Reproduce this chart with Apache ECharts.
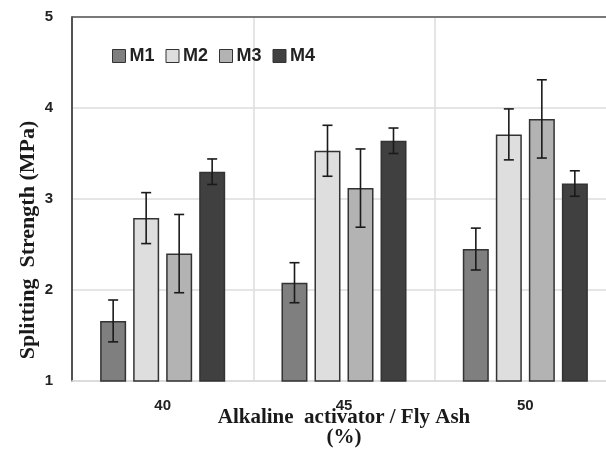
<!DOCTYPE html>
<html>
<head>
<meta charset="utf-8">
<script src="https://cdn.jsdelivr.net/npm/echarts@6/dist/echarts.min.js"></script>
<style>
  html, body { margin: 0; padding: 0; background: #fff; }
  #chart { width: 606px; height: 452px; }
</style>
</head>
<body>
<div id="chart"></div>
<script>
const categories = ['40', '45', '50']
const seriesNames = ['M1', 'M2', 'M3', 'M4']
const m1 = [1.66, 2.08, 2.45]
const m2 = [2.79, 3.53, 3.71]
const m3 = [2.40, 3.12, 3.88]
const m4 = [3.30, 3.64, 3.17]
const m1Err = [0.23, 0.22, 0.23]
const m2Err = [0.28, 0.28, 0.28]
const m3Err = [0.43, 0.43, 0.43]
const m4Err = [0.14, 0.14, 0.14]
const yTicks = [1, 2, 3, 4, 5]

const values = [m1, m2, m3, m4]
const errors = [m1Err, m2Err, m3Err, m4Err]
const colors = ['#7f7f7f', '#dedede', '#b3b3b3', '#404040']

const barWidth = 26
const barStep = 33 // bar width + gap between bars

const chart = echarts.init(document.getElementById('chart'))

const bars = values.map((data, i) => ({
  name: seriesNames[i],
  type: 'bar',
  barWidth: barWidth,
  barGap: '27%',
  itemStyle: {
    color: colors[i],
    borderColor: '#333',
    borderWidth: 1.5,
  },
  data,
}))

// error bars, one custom series per group so they sit on top of their bar
const errorBars = values.map((data, i) => ({
  type: 'custom',
  name: seriesNames[i] + ' err',
  z: 10,
  silent: true,
  encode: { x: 0, y: 1 },
  data: data.map((v, k) => [k, v, errors[i][k]]),
  renderItem(params, api) {
    const k = api.value(0)
    const v = api.value(1)
    const e = api.value(2)
    const dx = (i - 1.5) * barStep
    const hi = api.coord([k, v + e])
    const lo = api.coord([k, v - e])
    const x = hi[0] + dx
    const cap = 5
    const style = { stroke: '#1a1a1a', lineWidth: 1.6 }
    return {
      type: 'group',
      children: [
        { type: 'line', shape: { x1: x, y1: hi[1], x2: x, y2: lo[1] }, style },
        { type: 'line', shape: { x1: x - cap, y1: hi[1], x2: x + cap, y2: hi[1] }, style },
        { type: 'line', shape: { x1: x - cap, y1: lo[1], x2: x + cap, y2: lo[1] }, style },
      ],
    }
  },
}))

const option = {
  animation: false,
  backgroundColor: '#fff',
  grid: {
    left: 72,
    right: -10,
    top: 17,
    bottom: 71,
    outerBoundsMode: 'none',
  },
  legend: {
    data: seriesNames,
    left: 107,
    top: 42,
    itemWidth: 13,
    itemHeight: 13,
    itemGap: 11,
    icon: 'rect',
    itemStyle: { borderColor: '#333', borderWidth: 1 },
    textStyle: {
      fontFamily: 'Liberation Sans',
      fontWeight: 'bold',
      fontSize: 18,
      color: '#222',
      padding: [0, 0, 0, -1],
    },
  },
  xAxis: [
    {
      type: 'category',
      data: categories,
      axisTick: { show: false },
      axisLine: { lineStyle: { color: '#d9d9d9', width: 1.5 } },
      splitLine: { show: true, lineStyle: { color: '#dcdcdc', width: 1.5 } },
      axisLabel: {
        margin: 17,
        fontFamily: 'Liberation Sans',
        fontWeight: 'bold',
        fontSize: 15,
        color: '#222',
      },
      name: 'Alkaline  activator / Fly Ash\n(%)',
      nameLocation: 'middle',
      nameGap: 27,
      nameMoveOverlap: false,
      nameTextStyle: {
        fontFamily: 'Liberation Serif',
        fontWeight: 'bold',
        fontSize: 21,
        lineHeight: 20,
        color: '#1a1a1a',
      },
    },
    {
      // dark top border line of the plot
      type: 'category',
      data: categories,
      position: 'top',
      axisTick: { show: false },
      axisLabel: { show: false },
      axisLine: { lineStyle: { color: '#555', width: 1.5 } },
    },
  ],
  yAxis: {
    type: 'value',
    min: yTicks[0],
    max: yTicks[yTicks.length - 1],
    interval: 1,
    axisLine: { show: true, lineStyle: { color: '#222', width: 1.5 } },
    axisTick: { show: false },
    splitLine: { lineStyle: { color: '#dcdcdc', width: 1.5 } },
    axisLabel: {
      margin: 19,
      fontFamily: 'Liberation Sans',
      fontWeight: 'bold',
      fontSize: 15,
      color: '#222',
    },
  },
  graphic: [
    {
      type: 'text',
      x: 28,
      y: 240,
      rotation: Math.PI / 2,
      style: {
        text: 'Splitting  Strength (MPa)',
        fontFamily: 'Liberation Serif',
        fontWeight: 'bold',
        fontSize: 22,
        fill: '#1a1a1a',
        align: 'center',
        verticalAlign: 'middle',
      },
    },
  ],
  series: bars.concat(errorBars),
}

chart.setOption(option)
</script>
</body>
</html>
